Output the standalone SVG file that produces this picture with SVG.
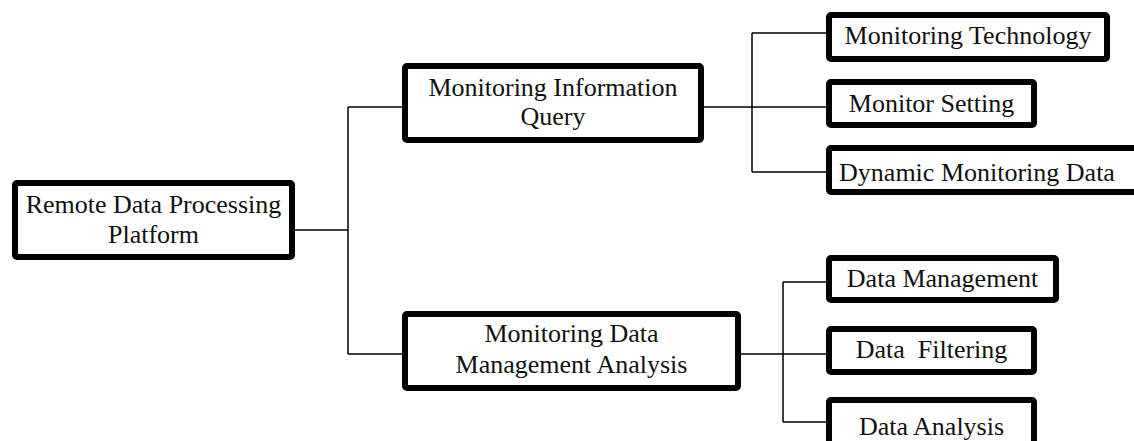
<svg xmlns="http://www.w3.org/2000/svg" width="1134" height="441" viewBox="0 0 1134 441">
<style>
.box{fill:#fff;stroke:#000;stroke-width:6;}
.lbl{font-family:"Liberation Serif","Times New Roman",serif;font-size:26px;fill:#111;text-anchor:middle;white-space:pre;}
.conn{fill:none;stroke:#000;stroke-width:1.5;}
</style>
<rect width="1134" height="441" fill="#fff"/>
<g id="connectors">
<path class="conn" d="M295 230H348M348 107V354M348 107H402M348 354H402"/>
<path class="conn" d="M704 107H826M752 33V172M752 33H826M752 172H826"/>
<path class="conn" d="M741 354H826M783 282V422M783 282H826M783 422H826"/>
</g>
<g id="root">
<rect class="box" x="15" y="183" width="277" height="74" rx="2"/>
<text class="lbl" x="153.5" y="213">Remote Data Processing</text>
<text class="lbl" x="153.5" y="243">Platform</text>
</g>
<g id="miq">
<rect class="box" x="405" y="66" width="296" height="74" rx="2"/>
<text class="lbl" x="553" y="96">Monitoring Information</text>
<text class="lbl" x="553" y="125">Query</text>
</g>
<g id="mdma">
<rect class="box" x="405" y="314" width="333" height="74" rx="2"/>
<text class="lbl" x="571.5" y="342">Monitoring Data</text>
<text class="lbl" x="571.5" y="373">Management Analysis</text>
</g>
<g id="mt">
<rect class="box" x="829" y="15" width="278" height="44" rx="2"/>
<text class="lbl" x="968" y="44">Monitoring Technology</text>
</g>
<g id="ms">
<rect class="box" x="829" y="82" width="205" height="43" rx="2"/>
<text class="lbl" x="931.5" y="112">Monitor Setting</text>
</g>
<g id="dmd">
<rect class="box" x="829" y="148" width="310" height="44" rx="2"/>
<text class="lbl" x="977" y="181">Dynamic Monitoring Data</text>
</g>
<g id="dm">
<rect class="box" x="829" y="258" width="227" height="42" rx="2"/>
<text class="lbl" x="942.5" y="287">Data Management</text>
</g>
<g id="df">
<rect class="box" x="829" y="329" width="205" height="43" rx="2"/>
<text class="lbl" x="931.5" y="358">Data  Filtering</text>
</g>
<g id="da">
<rect class="box" x="829" y="400" width="205" height="50" rx="2"/>
<text class="lbl" x="931.5" y="435">Data Analysis</text>
</g>
</svg>
